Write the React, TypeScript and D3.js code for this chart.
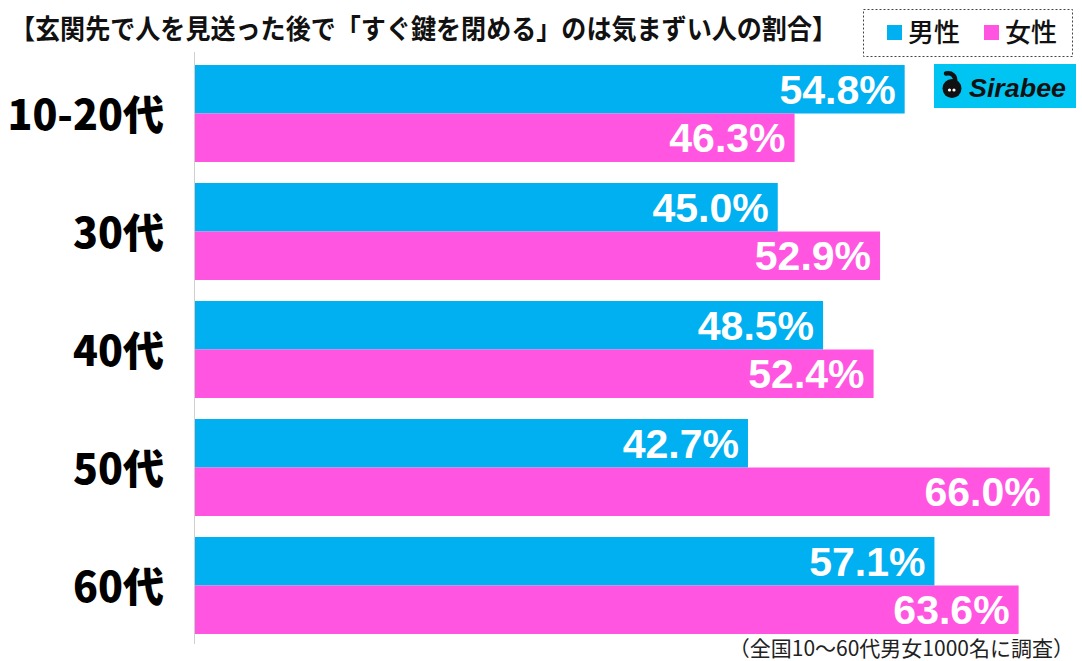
import React from "react";
import * as d3 from "d3";

const categories = ["10-20代", "30代", "40代", "50代", "60代"];
const maleValues = [54.8, 45.0, 48.5, 42.7, 57.1];
const femaleValues = [46.3, 52.9, 52.4, 66.0, 63.6];
const seriesNames = ["男性", "女性"];
const title = "【玄関先で人を見送った後で「すぐ鍵を閉める」のは気まずい人の割合】";
const note = "（全国10〜60代男女1000名に調査）";

const W = 1082;
const H = 661;
const COLORS = ["#00b0f0", "#ff55e1"];
const JP = "'Noto Sans CJK JP', 'Noto Sans', sans-serif";
const NUM = "'Liberation Sans', Arial, sans-serif";

export default function App() {
  const y = d3
    .scaleBand<string>()
    .domain(categories)
    .range([54.5, 644.5])
    .paddingInner(0.178)
    .paddingOuter(0.089);
  const sub = d3
    .scaleBand<string>()
    .domain(seriesNames)
    .range([0, y.bandwidth()]);
  const x = d3.scaleLinear().domain([0, 68]).range([195, 195 + 68 * 12.95]);
  const series = [maleValues, femaleValues];

  return (
    <svg
      width={W}
      height={H}
      style={{ position: "absolute", left: 0, top: 0, background: "#fff" }}
    >
      <rect x={0} y={0} width={W} height={H} fill="#fff" />
      <text
        x={10}
        y={39}
        fontFamily={JP}
        fontWeight={700}
        fontSize={27}
        fill="#111"
        textLength={827}
        lengthAdjust="spacingAndGlyphs"
      >
        {title}
      </text>

      {/* legend */}
      <rect
        x={863.5}
        y={9.5}
        width={209}
        height={47}
        fill="#fff"
        stroke="#444"
        strokeWidth={1}
        strokeDasharray="2,2"
      />
      {seriesNames.map((s, i) => (
        <g key={s} transform={`translate(${887 + i * 97},0)`}>
          <rect x={0} y={25} width={15} height={15} fill={COLORS[i]} />
          <text x={21} y={42} fontFamily={JP} fontWeight={500} fontSize={26} fill="#111">
            {s}
          </text>
        </g>
      ))}

      {/* bars */}
      {categories.map((c, ci) => (
        <g key={c}>
          {seriesNames.map((s, si) => {
            const v = series[si][ci];
            const by = (y(c) as number) + (sub(s) as number);
            const bh = sub.bandwidth();
            return (
              <g key={s}>
                <rect x={x(0)} y={by} width={x(v) - x(0)} height={bh} fill={COLORS[si]} />
                <text
                  x={x(v) - 9}
                  y={by + bh / 2 + 14.5}
                  textAnchor="end"
                  fontFamily={NUM}
                  fontWeight={700}
                  fontSize={41}
                  fill="#fff"
                >
                  {v.toFixed(1) + "%"}
                </text>
              </g>
            );
          })}
          <text
            x={164}
            y={(y(c) as number) + y.bandwidth() / 2 + 16}
            textAnchor="end"
            fontFamily={JP}
            fontWeight={900}
            fontSize={41}
            fill="#000"
          >
            {c}
          </text>
        </g>
      ))}

      {/* axis line */}
      <line x1={194.5} x2={194.5} y1={52} y2={644} stroke="#d0d0d0" strokeWidth={1} />

      {/* logo */}
      <g>
        <rect x={934} y={64} width={142} height={44} fill="#00c4f2" />
        <path
          d="M955,82 C956,76 952,72.5 946,73.5"
          fill="none"
          stroke="#111"
          strokeWidth={4.5}
          strokeLinecap="round"
        />
        <circle cx={952} cy={88.5} r={9.5} fill="#111" />
        <circle cx={949.5} cy={90} r={1.6} fill="#fff" />
        <circle cx={954} cy={90} r={1.6} fill="#fff" />
        <text
          x={969}
          y={97}
          fontFamily={NUM}
          fontWeight={700}
          fontStyle="italic"
          fontSize={26}
          fill="#111"
          textLength={97}
          lengthAdjust="spacingAndGlyphs"
        >
          Sirabee
        </text>
      </g>

      <text
        x={1074}
        y={656}
        textAnchor="end"
        fontFamily={JP}
        fontSize={21}
        fill="#222"
      >
        {note}
      </text>
    </svg>
  );
}
